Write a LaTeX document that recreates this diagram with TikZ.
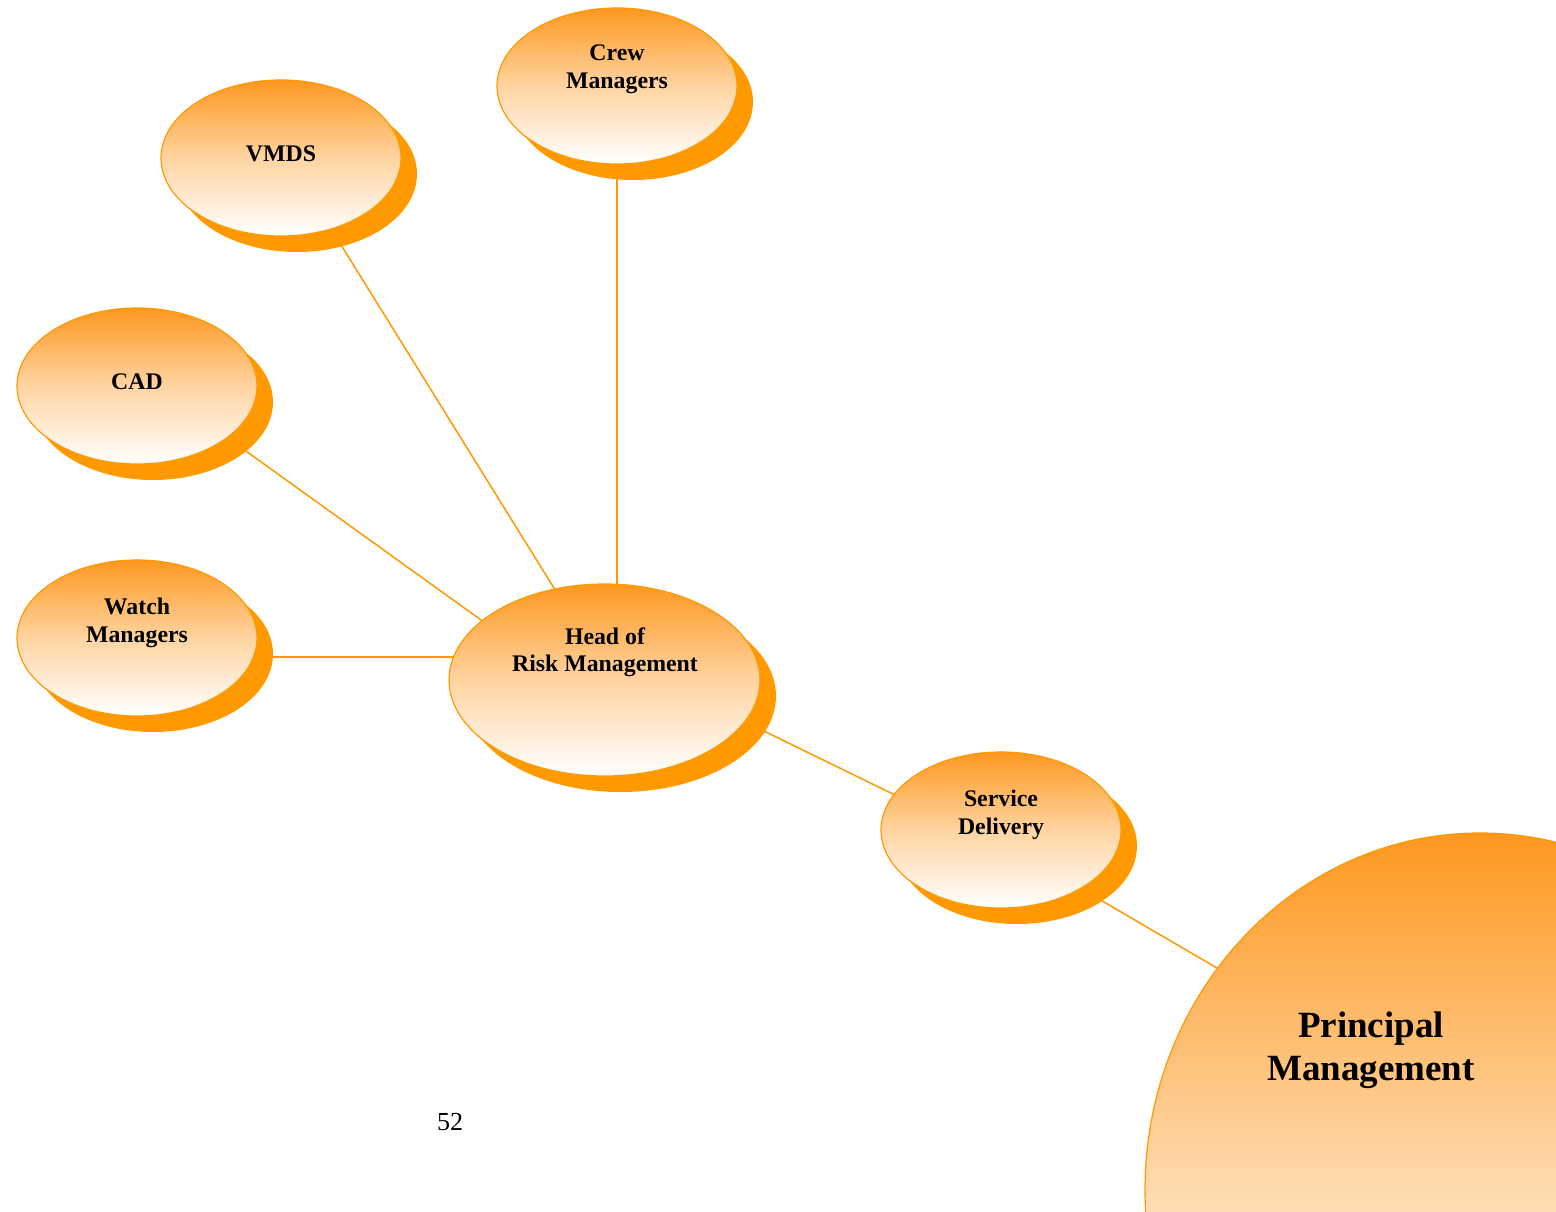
\documentclass[tikz,border=0pt]{standalone}
\usepackage{fontspec}
\setmainfont{Liberation Serif}
\usetikzlibrary{shapes.geometric,shadows}
\pgfdeclarelayer{bg}
\pgfsetlayers{bg,main}
\definecolor{orline}{RGB}{255,153,0}
\definecolor{orshadow}{RGB}{255,153,0}
\definecolor{ortop}{RGB}{254,152,32}
\tikzset{
  bub/.style={ellipse, draw=orline, line width=1.2pt, top color=ortop, bottom color=white,
    middle color=ortop!42!white,
    inner sep=0pt, minimum width=240pt, minimum height=156pt,
    drop shadow={shadow xshift=16pt, shadow yshift=-16pt, fill=orshadow, opacity=1, draw=none}},
  txt/.style={font=\bfseries\fontsize{23.8}{27.5}\selectfont, align=center, inner sep=0pt},
  conn/.style={draw=orline, line width=1.5pt},
}
\begin{document}
\begin{tikzpicture}[x=1pt,y=-1pt]
\useasboundingbox (0,0) rectangle (1556,1211);
\clip (0,0) rectangle (1556,1211);
% bubbles
\node[bub] (crew) at (617,86) {};
\node[bub] (vmds) at (281,158) {};
\node[bub] (cad) at (137,386) {};
\node[bub] (watch) at (137,638) {};
\node[bub, minimum width=311pt, minimum height=192pt] (head) at (604.5,680) {};
\node[bub] (serv) at (1001,830) {};
\node[bub, minimum width=670pt, minimum height=714pt, middle color=ortop!36!white] (prin) at (1480,1190) {};
% texts
\node[txt] (crewT) at (617,69) {Crew\\Managers};
\node[txt] (vmdsT) at (281,154) {VMDS};
\node[txt] (cadT) at (137,382) {CAD};
\node[txt] (watchT) at (137,623) {Watch\\Managers};
\node[txt] (headT) at (605,652) {Head of\\Risk Management};
\node[txt] (servT) at (1001,815) {Service\\Delivery};
\node[txt, font=\bfseries\fontsize{37}{43}\selectfont] (prinT) at (1371,1050) {Principal\\Management};
\node[inner sep=0pt, font=\fontsize{26}{30}\selectfont] (page) at (450,1122) {52};
% connector end points (hidden under the bubbles)
\coordinate (crewA) at (617,170);
\coordinate (headA) at (617,600);
\coordinate (vmdsA) at (297,174);
\coordinate (headB) at (621,696);
\coordinate (cadA) at (200,418);
\coordinate (headC) at (520,648);
\coordinate (watchA) at (200,657);
\coordinate (headD) at (500,657);
\coordinate (headE) at (700,699.8);
\coordinate (servA) at (940,817);
\coordinate (servB) at (1050,870.5);
\coordinate (prinA) at (1300,1016.5);
\begin{pgfonlayer}{bg}
\draw[conn] (crewA) -- (headA);
\draw[conn] (vmdsA) -- (headB);
\draw[conn] (cadA) -- (headC);
\draw[conn] (watchA) -- (headD);
\draw[conn] (headE) -- (servA);
\draw[conn] (servB) -- (prinA);
\end{pgfonlayer}
\end{tikzpicture}
\end{document}
